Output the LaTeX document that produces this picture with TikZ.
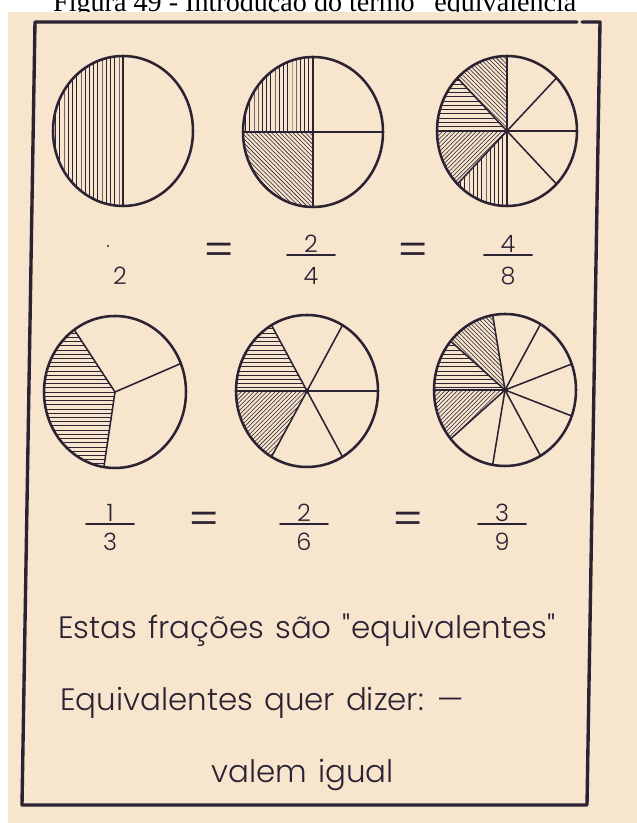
\documentclass[tikz,border=0pt]{standalone}
\usepackage{fontspec}
\setmainfont{Liberation Serif}
\IfFontExistsTF{Poppins Light}{\newfontfamily\hand{Poppins Light}[WordSpace=1.3]}{\newfontfamily\hand{Poppins}[WordSpace=1.3]}
\usetikzlibrary{patterns}
\definecolor{paper}{HTML}{F7E5CD}
\definecolor{ink}{HTML}{2B2233}
\tikzset{
  every picture/.style={line join=round, line cap=round},
  frame/.style={ink, line width=2.4pt},
  rim/.style={ink, line width=1.8pt},
  spoke/.style={ink, line width=1.1pt},
  bar/.style={ink, line width=1.4pt},
  hatch/.style={pattern=#1, pattern color=ink},
  digit/.style={font=\hand\fontsize{17}{17}\selectfont, text=ink, inner sep=0pt},
  sign/.style={font=\hand\fontsize{33}{33}\selectfont, text=ink, inner sep=0pt},
  lettering/.style={font=\hand\fontsize{22}{22}\selectfont, text=ink, inner sep=0pt, anchor=base west},
}

\begin{document}
\begin{tikzpicture}[x=0.025cm,y=0.025cm]
\useasboundingbox (0,0) rectangle (637,823);
\node[font=\fontsize{20}{20}\selectfont, anchor=base, inner sep=0pt] (title) at (321,811) {Figura 49 - Introdução do termo "equivalência"};
\fill[paper] (8,0) rectangle (637,811);
% frame
\draw[frame] (577,801) -- (35,801) -- (22,18) -- (587,18) -- (600,801) -- (582,801);

% centres of the discs
\coordinate (c1) at (123,692);
\coordinate (c2) at (313,691);
\coordinate (c3) at (507,692);
\coordinate (c4) at (115,431);
\coordinate (c5) at (307,432);
\coordinate (c6) at (505,433);

% halves, quarters, eighths
\fill[hatch=vertical lines] (c1) -- ++(90:70 and 75) arc[start angle=90, end angle=270, x radius=70, y radius=75] -- cycle;
\foreach \a/\b/\p in {90/180/vertical lines, 180/270/north west lines}
  \fill[hatch=\p] (c2) -- ++(\a:70 and 75) arc[start angle=\a, end angle=\b, x radius=70, y radius=75] -- cycle;
\foreach \a/\b/\p in {90/135/north west lines, 135/180/horizontal lines, 180/225/north east lines, 225/270/vertical lines}
  \fill[hatch=\p] (c3) -- ++(\a:70 and 75) arc[start angle=\a, end angle=\b, x radius=70, y radius=75] -- cycle;
\foreach \c in {c1,c2,c3} \draw[rim] (\c) ellipse[x radius=70, y radius=75];
\foreach \a in {90,270} \draw[spoke] (c1) -- ++(\a:70 and 75);
\foreach \a in {0,90,180,270} \draw[spoke] (c2) -- ++(\a:70 and 75);
\foreach \a in {0,45,...,315} \draw[spoke] (c3) -- ++(\a:70 and 75);
\fill[ink] (c3) circle[radius=2.5];

% thirds, sixths, ninths
\fill[hatch=horizontal lines] (c4) -- ++(125:71 and 76) arc[start angle=125, end angle=261, x radius=71, y radius=76] -- cycle;
\foreach \a/\b/\p in {120/180/horizontal lines, 180/240/north east lines}
  \fill[hatch=\p] (c5) -- ++(\a:71 and 76) arc[start angle=\a, end angle=\b, x radius=71, y radius=76] -- cycle;
\foreach \a/\b/\p in {100/140/north west lines, 140/180/horizontal lines, 180/220/north east lines}
  \fill[hatch=\p] (c6) -- ++(\a:71 and 76) arc[start angle=\a, end angle=\b, x radius=71, y radius=76] -- cycle;
\foreach \c in {c4,c5,c6} \draw[rim] (\c) ellipse[x radius=71, y radius=76];
\foreach \a in {22,125,261} \draw[spoke] (c4) -- ++(\a:71 and 76);
\foreach \a in {0,60,...,300} \draw[spoke] (c5) -- ++(\a:71 and 76);
\foreach \a in {20,60,...,340} \draw[spoke] (c6) -- ++(\a:71 and 76);
\fill[ink] (c5) circle[radius=2.5];
\fill[ink] (c6) circle[radius=2.5];

% first row of fractions
\node[digit] (da0) at (120,547) {2};
\fill[ink] (108,577) circle[radius=1.2];
\node[sign] (eqa1) at (219,568) {=};
\node[sign] (eqa2) at (413,568) {=};
\foreach \x/\n/\d [count=\i] in {311/2/4, 508/4/8}{
  \node[digit] (na\i) at (\x,579) {\n};
  \node[digit] (da\i) at (\x,547) {\d};
  \draw[bar] (\x-24,568) -- (\x+24,568);
}

% second row of fractions
\node[sign] (eqb1) at (204,299) {=};
\node[sign] (eqb2) at (408,299) {=};
\foreach \x/\n/\d [count=\i] in {110/1/3, 304/2/6, 502/3/9}{
  \node[digit] (nb\i) at (\x,310) {\n};
  \node[digit] (db\i) at (\x,281) {\d};
  \draw[bar] (\x-24,299) -- (\x+24,299);
}

% words
\node[lettering] (line1) at (58,184) {Estas frações são "equivalentes"};
\node[lettering] (line2) at (60,112) {Equivalentes quer dizer: —};
\node[lettering] (line3) at (211,40) {valem igual};
\end{tikzpicture}
\end{document}
